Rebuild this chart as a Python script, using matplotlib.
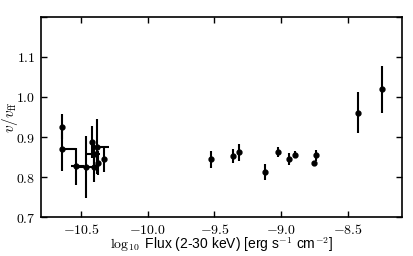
import matplotlib
matplotlib.use("Agg")
import matplotlib.pyplot as plt
from matplotlib.ticker import FuncFormatter, MultipleLocator

plt.rcParams['mathtext.fontset'] = 'cm'

# log10 flux, v/v_ff, errors
flux = [-10.64, -10.64, -10.54, -10.46, -10.42, -10.38, -10.405, -10.40, -10.375, -10.33,
        -9.527, -9.364, -9.317, -9.12, -9.022, -8.94, -8.895, -8.754, -8.737, -8.422, -8.242]
ratio = [0.926, 0.871, 0.827, 0.825, 0.887, 0.876, 0.857, 0.826, 0.836, 0.844,
         0.844, 0.852, 0.862, 0.813, 0.863, 0.844, 0.856, 0.836, 0.854, 0.961, 1.019]
ratio_err = [0.031, 0.057, 0.046, 0.078, 0.040, 0.068, 0.025, 0.038, 0.030, 0.031,
             0.022, 0.018, 0.021, 0.020, 0.012, 0.015, 0.008, 0.005, 0.013, 0.051, 0.058]
flux_err_lo = [0, 0.01, 0.035, 0.06, 0, 0.04, 0.05, 0, 0, 0,
               0, 0, 0, 0, 0, 0, 0, 0, 0, 0, 0]
flux_err_hi = [0, 0.105, 0.06, 0.07, 0, 0.09, 0.045, 0, 0, 0,
               0, 0, 0, 0, 0, 0, 0, 0, 0, 0, 0]

fig = plt.figure(figsize=(4.14, 2.56), dpi=100)
ax = fig.add_axes([0.099, 0.152, 0.872, 0.782])

ax.errorbar(flux, ratio, yerr=ratio_err, xerr=[flux_err_lo, flux_err_hi],
            fmt='o', color='k', ms=3.5, elinewidth=1.5, capsize=0)

ax.set_xlim(-10.8, -8.095)
ax.set_ylim(0.7, 1.2)
ax.xaxis.set_major_locator(MultipleLocator(0.5))
ax.yaxis.set_major_locator(MultipleLocator(0.1))
ax.xaxis.set_major_formatter(FuncFormatter(lambda v, p: r'$%.1f$' % v))
ax.yaxis.set_major_formatter(FuncFormatter(lambda v, p: r'$%.1f$' % v if v < 1.15 else ''))
ax.tick_params(direction='in', top=True, right=True, length=4, width=1, labelsize=10, pad=4)
for s in ax.spines.values():
    s.set_linewidth(1.2)

ax.set_xlabel(r'$\log_{10}$ Flux (2-30 keV) [erg s$^{-1}$ cm$^{-2}$]', fontsize=10,
              family='Liberation Sans')
ax.xaxis.set_label_coords(0.5, -0.09)
ax.set_ylabel(r'$v/v_{\rm ff}$', fontsize=11)
ax.yaxis.set_label_coords(-0.058, 0.5)

fig.savefig('out.png', dpi=100)
